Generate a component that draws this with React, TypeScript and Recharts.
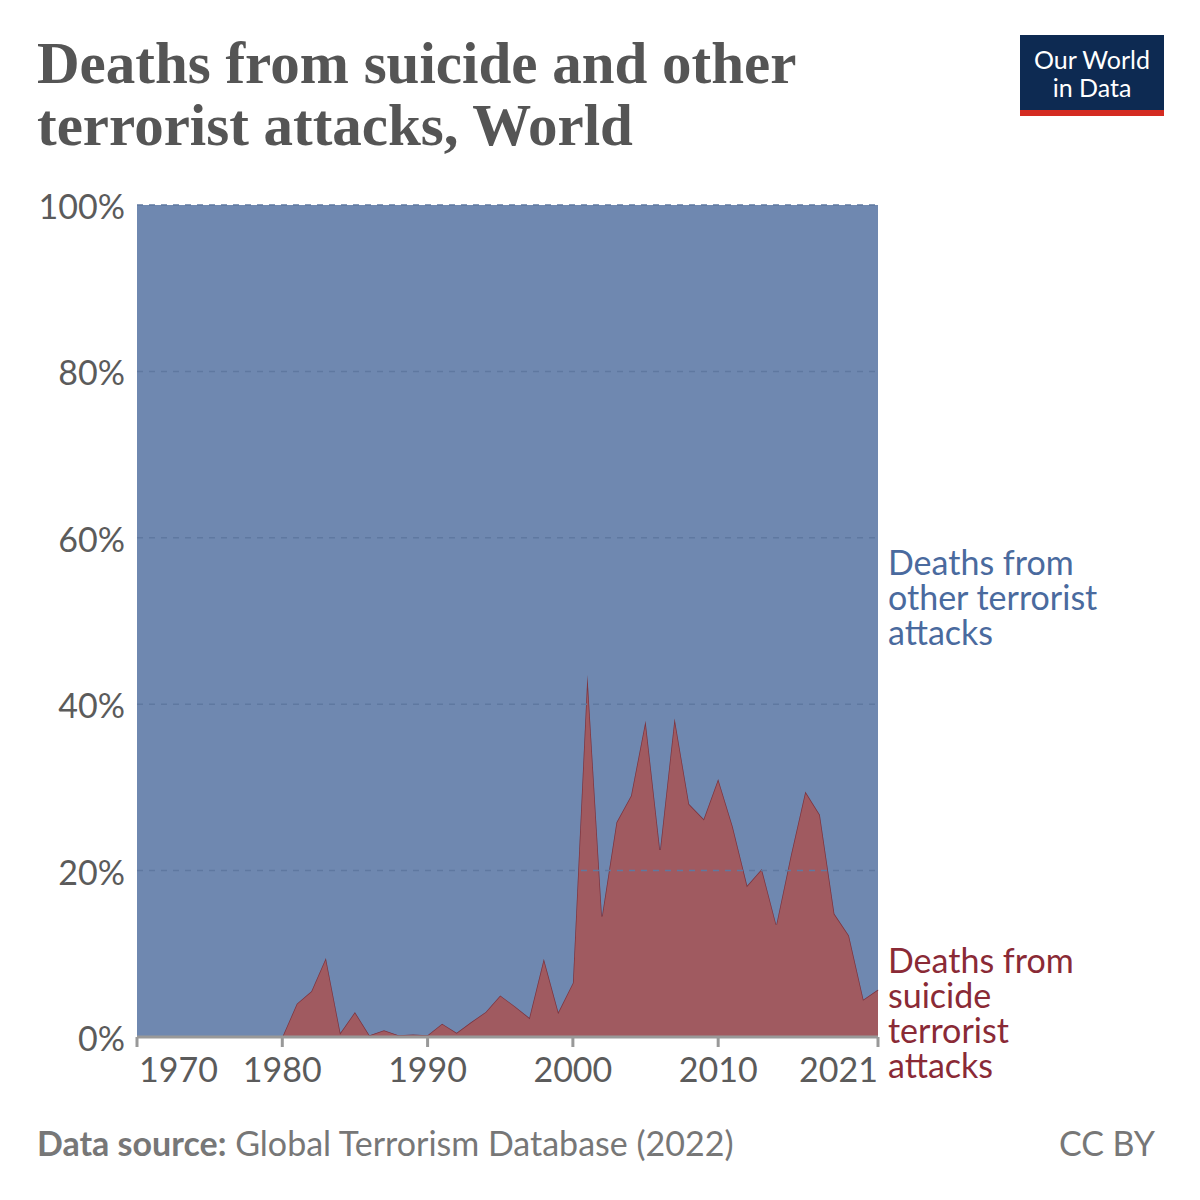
import React from "react";
import { AreaChart, Area, XAxis, YAxis, ReferenceLine } from "recharts";

const years = Array.from({ length: 52 }, (_, i) => 1970 + i);
// share of deaths from suicide attacks, % (1970..2021)
const suicideShare = [
  0, 0, 0, 0, 0, 0, 0, 0, 0, 0, 0,
  4, 5.5, 9.5, 0.5, 3, 0.2, 0.8, 0.2, 0.3, 0.2,
  1.6, 0.5, 1.8, 3, 5, 3.7, 2.3, 9.4, 3, 6.5,
  43.5, 14.5, 25.8, 29, 38, 22.5, 38.3, 28, 26.2, 31,
  25.3, 18.2, 20.2, 13.5, 21.8, 29.5, 26.7, 14.8, 12.2, 4.5, 5.7,
];
const xTicks = [1970, 1980, 1990, 2000, 2010, 2021];
const yTicks = [0, 20, 40, 60, 80, 100];

const data = years.map((year, i) => ({
  year,
  suicide: suicideShare[i],
  other: 100 - suicideShare[i],
}));

const FONT = "Lato, 'Noto Sans', sans-serif";

const XTick = (props: any) => {
  const { x, y, payload } = props;
  const v = payload.value;
  const anchor = v === 1970 ? "start" : v === 2021 ? "end" : "middle";
  const dx = v === 1970 ? 2 : 0;
  return (
    <text x={x + dx} y={y + 33} textAnchor={anchor} fill="#5b5b5b" fontSize={34} fontFamily={FONT}>
      {v}
    </text>
  );
};

export default function App() {
  return (
    <div style={{ position: "absolute", left: 0, top: 0, width: 1200, height: 1200, background: "#fff", fontFamily: FONT }}>
      <div style={{ position: "absolute", left: 37, top: 32, fontFamily: "'Liberation Serif', serif", fontWeight: 700, fontSize: 59, lineHeight: "62px", color: "#555" }}>
        Deaths from suicide and other<br />terrorist attacks, World
      </div>
      <div style={{ position: "absolute", left: 1020, top: 35, width: 144, height: 81, background: "#0d2a52", color: "#fff", textAlign: "center", fontSize: 25, lineHeight: "28px", paddingTop: 10, boxSizing: "border-box", borderBottom: "6px solid #d42b21" }}>
        Our World<br />in Data
      </div>
      <AreaChart width={1200} height={1200} data={data} margin={{ left: 0, top: 205, right: 322, bottom: 103 }}>
        <XAxis
          dataKey="year"
          type="number"
          domain={[1970, 2021]}
          ticks={xTicks}
          tick={<XTick />}
          height={60}
          tickSize={10}
          stroke="#999"
          strokeWidth={3}
        />
        <YAxis
          width={137}
          domain={[0, 100]}
          ticks={yTicks}
          tickFormatter={(v: number) => `${v}%`}
          tick={{ fill: "#5b5b5b", fontSize: 34, fontFamily: FONT, dy: 2 }}
          axisLine={false}
          tickLine={false}
          tickMargin={6}
        />
        <Area dataKey="suicide" stackId="a" type="linear" fill="#a05a60" fillOpacity={1} stroke="#7d3540" strokeWidth={1.5} isAnimationActive={false} />
        <Area dataKey="other" stackId="a" type="linear" fill="#6f88b0" fillOpacity={1} stroke="none" isAnimationActive={false} />
        {[20, 40, 60, 80, 100].map((v) => (
          <ReferenceLine key={v} y={v} stroke="#5f78a0" strokeDasharray="6 6" strokeWidth={1.5} />
        ))}
      </AreaChart>
      <div style={{ position: "absolute", left: 888, top: 544, fontSize: 34, lineHeight: "35px", color: "#4a6a9e" }}>
        Deaths from<br />other terrorist<br />attacks
      </div>
      <div style={{ position: "absolute", left: 888, top: 942, fontSize: 34, lineHeight: "35px", color: "#8a2a36" }}>
        Deaths from<br />suicide<br />terrorist<br />attacks
      </div>
      <div style={{ position: "absolute", left: 37, top: 1122, fontSize: 34, color: "#777" }}>
        <b>Data source:</b> Global Terrorism Database (2022)
      </div>
      <div style={{ position: "absolute", right: 45, top: 1122, fontSize: 34, color: "#777" }}>CC BY</div>
    </div>
  );
}
